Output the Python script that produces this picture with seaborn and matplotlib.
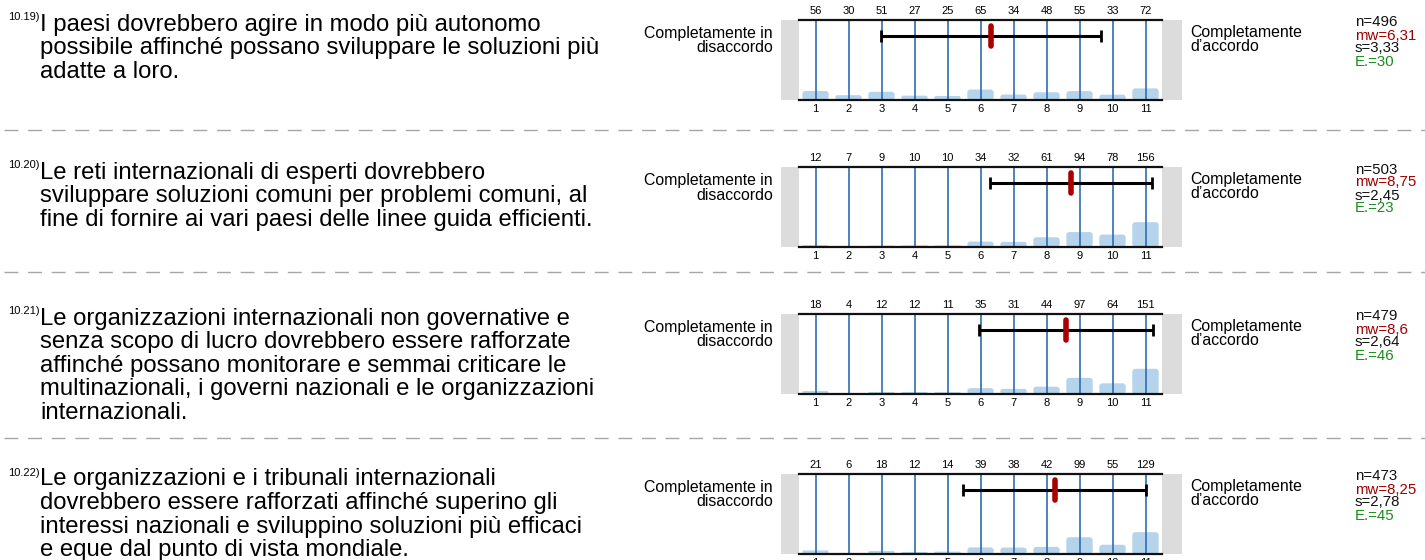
import matplotlib.pyplot as plt
import numpy as np
import pandas as pd
import seaborn as sns
from matplotlib.patches import FancyBboxPatch
from matplotlib.lines import Line2D

sns.set_theme(style='white')
plt.rcParams['font.family'] = ['Liberation Sans', 'DejaVu Sans']
plt.rcParams['text.color'] = 'black'
plt.rcParams['xtick.color'] = 'black'

# data
scale = ['1', '2', '3', '4', '5', '6', '7', '8', '9', '10', '11']
numbers = ['10.19)', '10.20)', '10.21)', '10.22)']
questions = [
    ['I paesi dovrebbero agire in modo più autonomo',
     'possibile affinché possano sviluppare le soluzioni più',
     'adatte a loro.'],
    ['Le reti internazionali di esperti dovrebbero',
     'sviluppare soluzioni comuni per problemi comuni, al',
     'fine di fornire ai vari paesi delle linee guida efficienti.'],
    ['Le organizzazioni internazionali non governative e',
     'senza scopo di lucro dovrebbero essere rafforzate',
     'affinché possano monitorare e semmai criticare le',
     'multinazionali, i governi nazionali e le organizzazioni',
     'internazionali.'],
    ['Le organizzazioni e i tribunali internazionali',
     'dovrebbero essere rafforzati affinché superino gli',
     'interessi nazionali e sviluppino soluzioni più efficaci',
     'e eque dal punto di vista mondiale.'],
]
counts_1019 = [56, 30, 51, 27, 25, 65, 34, 48, 55, 33, 72]
counts_1020 = [12, 7, 9, 10, 10, 34, 32, 61, 94, 78, 156]
counts_1021 = [18, 4, 12, 12, 11, 35, 31, 44, 97, 64, 151]
counts_1022 = [21, 6, 18, 12, 14, 39, 38, 42, 99, 55, 129]
counts = [counts_1019, counts_1020, counts_1021, counts_1022]
n_vals = [496, 503, 479, 473]
mw_vals = [6.31, 8.75, 8.6, 8.25]
s_vals = [3.33, 2.45, 2.64, 2.78]
e_vals = [30, 23, 46, 45]
left_label = ['Completamente in', 'disaccordo']
right_label = ['Completamente', 'd\u2019accordo']

W, H = 1425, 560
fig = plt.figure(figsize=(W / 100, H / 100), dpi=100)

def fx(px):
    return px / W

def fy(py):
    return 1 - py / H

row_top = [20, 167, 314, 474]
ax_left, ax_right, ax_h = 799, 1162, 80
text_y0 = [30.5, 178.5, 324.5, 485.5]
sep_y = [130, 272, 438]

blue = '#2f6db2'
barc = '#b5d4ec'
grey = '#dcdcdc'
px_x = (ax_right - ax_left) / 11.0
px_y = ax_h / 100.0

for i in range(4):
    top = row_top[i]
    ax = fig.add_axes([fx(ax_left), fy(top + ax_h), fx(ax_right - ax_left), ax_h / H])
    df = pd.DataFrame({'scale': scale, 'pct': np.array(counts[i]) / n_vals[i] * 100})
    sns.barplot(data=df, x='scale', y='pct', color=barc, width=0.8, saturation=1, ax=ax)
    # rounded bars
    aspect = (3 / px_y) / (3 / px_x)
    for p in list(ax.patches):
        x, w, h = p.get_x(), p.get_width(), p.get_height()
        p.remove()
        r = min(3 / px_x, h / aspect / 2)
        ax.add_patch(FancyBboxPatch((x, 0), w, h, boxstyle=f'round,pad=0,rounding_size={r}',
                                    mutation_aspect=aspect, fc=barc, ec='none', zorder=1))
    ax.set_xlim(-0.5, 10.5)
    ax.set_ylim(0, 100)
    ax.vlines(range(11), 0, 100, color=blue, lw=1.2, zorder=2)
    ax.axvspan(-0.5 - 18 / px_x, -0.5, color=grey, clip_on=False, zorder=0, lw=0)
    ax.axvspan(10.5, 10.5 + 20 / px_x, color=grey, clip_on=False, zorder=0, lw=0)
    for sp in ['left', 'right']:
        ax.spines[sp].set_visible(False)
    for sp in ['top', 'bottom']:
        ax.spines[sp].set_visible(True)
        ax.spines[sp].set_color('#111111')
        ax.spines[sp].set_linewidth(1.6)
    ax.set_xlabel('')
    ax.set_ylabel('')
    ax.set_yticks([])
    ax.tick_params(axis='x', length=0, pad=3, labelsize=8)
    ax.set_facecolor('white')
    for j, c in enumerate(counts[i]):
        ax.text(j, 100 + 4 / px_y, str(c), ha='center', va='bottom', fontsize=8)
    m, s = mw_vals[i] - 1, s_vals[i]
    ax.errorbar([m], [80], xerr=[s], fmt='none', ecolor='black', elinewidth=2.2,
                capsize=4, capthick=2, zorder=3)
    ax.plot([m, m], [67, 93], color='#a80000', lw=4, solid_capstyle='round', zorder=4)

    # left / right anchors
    fig.text(fx(773), fy(top + 18), left_label[0], ha='right', va='baseline', fontsize=11.4)
    fig.text(fx(773), fy(top + 32.5), left_label[1], ha='right', va='baseline', fontsize=11.4)
    fig.text(fx(1190), fy(top + 16.5), right_label[0], ha='left', va='baseline', fontsize=11.4)
    fig.text(fx(1190), fy(top + 31), right_label[1], ha='left', va='baseline', fontsize=11.4)

    stats = [(f'n={n_vals[i]}', '#111111'),
             ('mw=' + str(mw_vals[i]).replace('.', ','), '#a00000'),
             ('s=' + f'{s_vals[i]:.2f}'.replace('.', ','), '#111111'),
             (f'E.={e_vals[i]}', '#1a8c1a')]
    for k, (t, col) in enumerate(stats):
        fig.text(fx(1355), fy(top + 6.5 + 13 * k), t, color=col, ha='left', va='baseline', fontsize=10.8)

    # question text
    y0 = text_y0[i]
    fig.text(fx(8), fy(y0 - 10), numbers[i], ha='left', va='baseline', fontsize=8)
    for k, line in enumerate(questions[i]):
        fig.text(fx(40), fy(y0 + 23.6 * k), line, ha='left', va='baseline', fontsize=17.2)

for y in sep_y:
    fig.add_artist(Line2D([fx(4), 1], [fy(y), fy(y)], transform=fig.transFigure,
                          color='#a6a6a6', lw=1, ls=(0, (10, 7))))

fig.savefig('out.png', dpi=100)
